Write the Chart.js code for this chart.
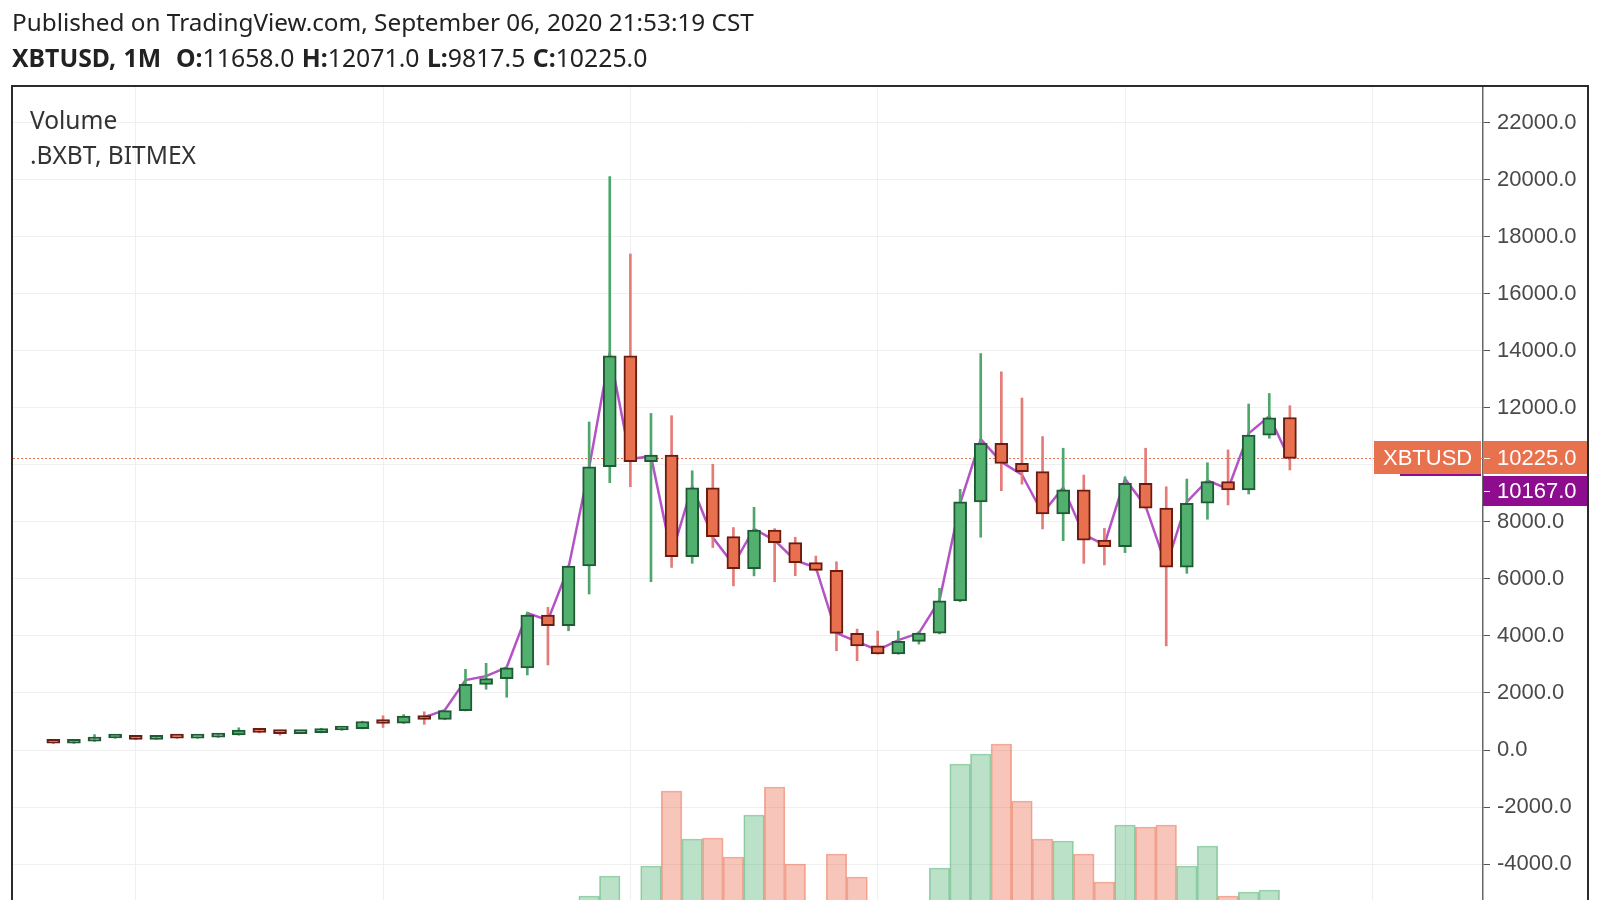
<!DOCTYPE html>
<html>
<head>
<meta charset="utf-8">
<script src="https://cdn.jsdelivr.net/npm/chart.js@4.4.0/dist/chart.umd.min.js"></script>
<style>
  body { margin: 0; background: #fff; }
  #wrap { position: relative; width: 1600px; height: 900px; overflow: hidden; }
  canvas { position: absolute; left: 0; top: 0; }
  .hd { position: absolute; left: 12px; font-family: 'Noto Sans', sans-serif; font-size: 24.3px; line-height: 28px; color: #222; white-space: pre; }
  .hd b { font-weight: 700; }
  .hd2 { font-size: 24.8px; word-spacing: 1px; }
</style>
</head>
<body>
<div id="wrap">
  <canvas id="c" width="1600" height="900"></canvas>
  <div class="hd" style="top:8px">Published on TradingView.com, September 06, 2020 21:53:19 CST</div>
  <div class="hd hd2" style="top:43px"><b>XBTUSD, 1M</b>  <b>O:</b>11658.0 <b>H:</b>12071.0 <b>L:</b>9817.5 <b>C:</b>10225.0</div>
</div>
<script>
// monthly candles, Sep 2015 .. Sep 2020 (index 0 = Sep 2015)
const OPEN = [245, 236, 312, 420, 455, 375, 440, 415, 450, 530,
  700, 620, 575, 610, 700, 745, 1030, 940, 1190, 1070,
  1380, 2300, 2500, 2880, 4730, 4360, 6450, 9930, 13820, 10110,
  10340, 6780, 9190, 7480, 6360, 7710, 7270, 6570, 6300, 4090,
  3650, 3370, 3810, 4100, 5230, 8700, 10750, 10050, 9760, 8280,
  9120, 7360, 7130, 9350, 8480, 6410, 8650, 9410, 9120, 11040,
  11658];
const HIGH = [252, 320, 540, 465, 460, 445, 445, 455, 560, 780,
  710, 625, 615, 760, 760, 1010, 1200, 1240, 1340, 1400,
  2830, 3040, 2920, 4830, 5000, 6470, 11500, 20100, 17390, 11800,
  11720, 9790, 10020, 7800, 8510, 7760, 7460, 6800, 6600, 4240,
  4170, 4170, 4150, 5670, 9140, 13900, 13260, 12340, 10990, 10580,
  9640, 7770, 9580, 10580, 9230, 9500, 10070, 10520, 12130, 12500,
  12071];
const LOW = [228, 232, 300, 410, 360, 370, 405, 410, 440, 520,
  600, 520, 570, 600, 690, 740, 790, 930, 900, 1060,
  1370, 2130, 1850, 2630, 2980, 4180, 5470, 9370, 9230, 5900,
  6400, 6545, 7100, 5755, 6105, 5900, 6110, 6280, 3480, 3130,
  3360, 3360, 3715, 4070, 5200, 7460, 9090, 9320, 7750, 7340,
  6545, 6490, 6920, 8470, 3650, 6195, 8090, 8590, 8975, 10930,
  9817.5];
const CLOSE = [236, 312, 420, 455, 375, 440, 415, 450, 530, 700,
  620, 575, 610, 700, 745, 1000, 930, 1190, 1070, 1380,
  2300, 2500, 2880, 4730, 4360, 6450, 9930, 13820, 10110, 10340,
  6780, 9190, 7480, 6360, 7710, 7270, 6570, 6300, 4090, 3650,
  3370, 3810, 4100, 5230, 8700, 10750, 10050, 9760, 8280, 9120,
  7360, 7130, 9350, 8480, 6410, 8650, 9410, 9120, 11040, 11650,
  10225];
// .BXBT index close (purple line)
const BXBT = [null, null, null, null, null, null, null, null, null, null,
  null, null, null, null, null, null, null, null, 1150, 1400,
  2450, 2590, 2900, 4800, 4550, 6400, 9900, 13900, 10200, 10300,
  6850, 9250, 7450, 6500, 7750, 7350, 6650, 6400, 4100, 3800,
  3500, 3850, 4100, 5250, 8650, 10900, 10100, 9650, 8300, 9200,
  7550, 7200, 9500, 8550, 6450, 8700, 9450, 9150, 11100, 11700,
  10167];
// volume, relative units
const VOLUME = [8, 9, 10, 10, 12, 12, 14, 14, 16, 18,
  18, 17, 17, 20, 22, 26, 30, 30, 34, 38,
  44, 50, 55, 62, 70, 78, 104, 124, 90, 134,
  209, 161, 162, 143, 185, 213, 136, 80, 146, 123,
  70, 60, 85, 132, 236, 246, 256, 199, 161, 159,
  146, 118, 175, 173, 175, 134, 154, 104, 108, 110,
  60];
const YEAR_STARTS = [4, 16, 28, 40, 52, 64];   // Jan 2016 .. Jan 2021
const PRICE_TICKS = [-4000, -2000, 0, 2000, 4000, 6000, 8000, 10000, 12000,
  14000, 16000, 18000, 20000, 22000];
const LAST_PRICE = 10225.0, LAST_INDEX = 10167.0;

const UP = '#52b06f', UP_EDGE = '#1f5a35', UP_WICK = '#4ea66b';
const DN = '#e8704f', DN_EDGE = '#6b1c10', DN_WICK = '#e57b77';
const ORANGE = '#e8714e', MAGENTA = '#8e0c8e', LINE = '#b452c6';
const GRID = '#efefef', TXT = '#4a4a4a';

const idx = OPEN.map((_, i) => i);
const up = i => CLOSE[i] >= OPEN[i];

const overlay = {
  id: 'overlay',
  beforeDatasetsDraw(chart) {
    const { ctx, chartArea: a, scales: { y } } = chart;
    const py = Math.round(y.getPixelForValue(LAST_PRICE)) + 0.5;
    ctx.save();
    ctx.strokeStyle = ORANGE; ctx.lineWidth = 1; ctx.setLineDash([2, 2]);
    ctx.beginPath(); ctx.moveTo(a.left, py); ctx.lineTo(a.right, py); ctx.stroke();
    ctx.restore();
  },
  afterDraw(chart) {
    const { ctx, chartArea: a, scales: { y } } = chart;
    ctx.save();
    ctx.textBaseline = 'middle';
    ctx.font = '24.5px "Noto Sans"'; ctx.fillStyle = '#333';
    ctx.fillText('Volume', 30, 122);
    ctx.fillText('.BXBT, BITMEX', 30, 157);

    const py = Math.round(y.getPixelForValue(LAST_PRICE));
    const top = py - 17, h = 33, rEdge = 1588;
    // index name tag mostly hidden behind the symbol tag
    ctx.fillStyle = MAGENTA; ctx.fillRect(1400, top + 2, a.right - 2 - 1400, h);
    ctx.fillStyle = ORANGE;
    ctx.fillRect(1374, top, a.right - 2 - 1374, h);
    ctx.fillRect(a.right, top, rEdge - a.right, h);
    ctx.fillStyle = MAGENTA;
    ctx.fillRect(a.right, top + h + 2, rEdge - a.right, 30);

    ctx.fillStyle = '#fff';
    ctx.font = '22px "Liberation Sans"';
    ctx.fillText('XBTUSD', 1383, py + 1);
    ctx.fillText(LAST_PRICE.toFixed(1), a.right + 14, py + 1);
    ctx.fillText(LAST_INDEX.toFixed(1), a.right + 14, top + h + 18);
    ctx.fillRect(a.right + 1, py, 6, 1);
    ctx.fillRect(a.right + 1, top + h + 17, 6, 1);

    // frame
    ctx.strokeStyle = '#2b2b2b'; ctx.lineWidth = 2;
    ctx.beginPath();
    ctx.moveTo(a.left - 1, 905); ctx.lineTo(a.left - 1, a.top - 1);
    ctx.lineTo(rEdge, a.top - 1); ctx.lineTo(rEdge, 905);
    ctx.stroke();
    ctx.restore();
  }
};

new Chart(document.getElementById('c'), {
  type: 'bar',
  data: {
    datasets: [
      {
        label: 'body', grouped: false, order: 1,
        data: idx.map(i => ({ x: i, y: [OPEN[i], CLOSE[i]] })),
        barThickness: 13, borderWidth: 2, borderSkipped: false, minBarLength: 4,
        backgroundColor: c => up(c.dataIndex) ? UP : DN,
        borderColor: c => up(c.dataIndex) ? UP_EDGE : DN_EDGE
      },
      {
        label: 'wick', grouped: false, order: 2,
        data: idx.map(i => ({ x: i, y: [LOW[i], HIGH[i]] })),
        barThickness: 2, borderWidth: 0,
        backgroundColor: c => up(c.dataIndex) ? UP_WICK : DN_WICK
      },
      {
        type: 'line', label: '.BXBT', order: 3,
        data: idx.map(i => ({ x: i, y: BXBT[i] })),
        borderColor: LINE, borderWidth: 2.5, pointRadius: 0, spanGaps: false
      },
      {
        label: 'Volume', grouped: false, order: 4, yAxisID: 'yv',
        data: idx.map(i => ({ x: i, y: VOLUME[i] })),
        barPercentage: 1, categoryPercentage: 1, borderWidth: 1,
        backgroundColor: c => up(c.dataIndex) ? 'rgba(76,175,110,0.38)' : 'rgba(235,110,80,0.4)',
        borderColor: c => up(c.dataIndex) ? 'rgba(76,175,110,0.55)' : 'rgba(235,110,80,0.55)'
      }
    ]
  },
  options: {
    responsive: false, animation: false,
    layout: { padding: { left: 13, top: 87, right: 0, bottom: 0 } },
    plugins: { legend: { display: false }, tooltip: { enabled: false } },
    scales: {
      x: {
        type: 'linear', min: -1.955, max: 69.37, offset: false,
        afterBuildTicks: s => { s.ticks = YEAR_STARTS.map(v => ({ value: v })); },
        afterFit: s => { s.height = 0; },
        ticks: { display: false },
        grid: { color: GRID, offset: false, drawTicks: false },
        border: { display: false }
      },
      y: {
        position: 'right', min: -5259, max: 23245,
        afterBuildTicks: s => { s.ticks = PRICE_TICKS.map(v => ({ value: v })); },
        afterFit: s => { s.width = 117; s.paddingTop = 0; s.paddingBottom = 0; },
        ticks: {
          padding: 7, color: TXT, autoSkip: false,
          font: { family: 'Liberation Sans', size: 22 },
          callback: v => v.toFixed(1)
        },
        grid: { color: GRID, tickColor: '#555', tickLength: 7 },
        border: { display: true, color: '#666', width: 1.5 }
      },
      yv: { display: false, min: 100, max: 913 }
    }
  },
  plugins: [overlay]
});
</script>
</body>
</html>
